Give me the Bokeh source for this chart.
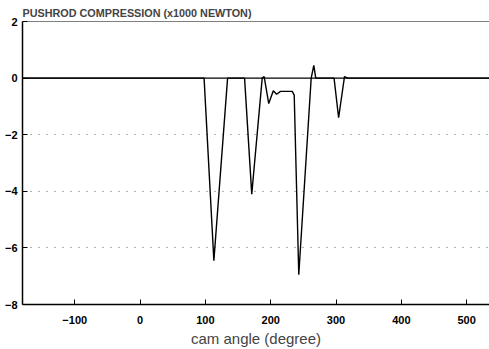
from bokeh.plotting import figure
from bokeh.models import Span, FixedTicker
from bokeh.embed import file_html
from bokeh.resources import INLINE

# Data
cam_angle = [-180, 98, 113, 134, 160, 171, 187, 190, 197, 204, 209, 215, 233, 236, 243, 262, 266, 269, 297, 304, 313, 318, 535]
compression = [0, 0, -6.45, 0, 0, -4.1, 0, 0.05, -0.9, -0.45, -0.57, -0.47, -0.47, -0.6, -6.95, 0, 0.45, 0, 0, -1.4, 0.05, 0, 0]
x_ticks = [-100, 0, 100, 200, 300, 400, 500]
y_ticks = [-8, -6, -4, -2, 0, 2]
grid_levels = [-6, -4, -2]

p = figure(width=489, height=349, output_backend="svg", toolbar_location=None,
           x_range=(-180, 535), y_range=(-8, 2),
           min_border_left=22, min_border_right=0, min_border_top=21, min_border_bottom=10)

p.title.text = "PUSHROD COMPRESSION (x1000 NEWTON)"
p.title.text_font = "Liberation Sans"
p.title.text_font_style = "bold"
p.title.text_font_size = "10.8px"
p.title.align = "left"
p.title.offset = 0
p.title.standoff = 6

p.outline_line_color = None
p.background_fill_color = "white"
p.border_fill_color = "white"

for ax in (p.xaxis[0], p.yaxis[0]):
    ax.axis_line_color = "black"
    ax.axis_line_width = 1.5
    ax.major_tick_in = 5
    ax.major_tick_out = 0
    ax.major_tick_line_color = "black"
    ax.minor_tick_line_color = None
    ax.major_label_text_font = "Liberation Sans"
    ax.major_label_text_font_style = "bold"
    ax.major_label_text_font_size = "11px"
    ax.major_label_text_color = "black"

p.xaxis.ticker = FixedTicker(ticks=x_ticks)
p.yaxis.ticker = FixedTicker(ticks=y_ticks)
p.xaxis.major_label_standoff = 11
p.yaxis.major_label_standoff = 5
p.xaxis.axis_label = "cam angle (degree)"
p.xaxis.axis_label_text_font = "Liberation Sans"
p.xaxis.axis_label_text_font_style = "normal"
p.xaxis.axis_label_text_font_size = "15px"
p.xaxis.axis_label_standoff = 3

p.xgrid.visible = False
p.ygrid.ticker = FixedTicker(ticks=grid_levels)
p.ygrid.grid_line_color = "black"
p.ygrid.grid_line_dash = "1 7"
p.ygrid.grid_line_alpha = 0.6

p.add_layout(Span(location=2, dimension="width", line_color="black", line_width=1))
p.add_layout(Span(location=0, dimension="width", line_color="black", line_width=1.3))

p.line(cam_angle, compression, line_color="black", line_width=1.4)

open("out.html", "w").write(file_html(p, INLINE))
